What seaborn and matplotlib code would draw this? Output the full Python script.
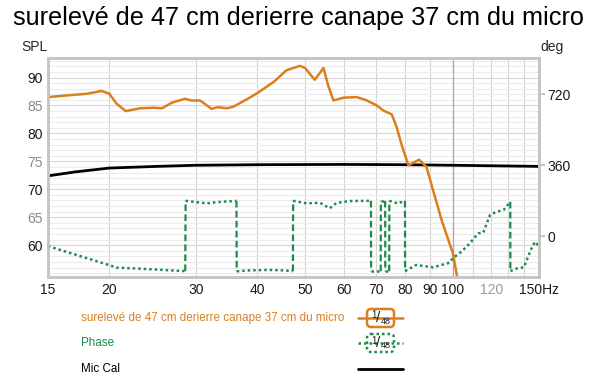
import numpy as np
import pandas as pd
import seaborn as sns
import matplotlib.pyplot as plt
from matplotlib.patches import FancyBboxPatch
from matplotlib.ticker import FixedLocator, NullFormatter

# values
spl_freq = [15, 16.4, 18.0, 19.3, 20.0, 20.7, 21.6, 23.1, 24.6, 25.6, 26.8, 28.5, 29.4,
            30.6, 32.3, 33.3, 34.7, 35.8, 38.1, 40.0, 43.2, 45.9, 48.9, 50.1, 52.4, 54.6,
            55.8, 57.2, 60.0, 63.8, 66.9, 70.1, 72.3, 75.2, 76.9, 78.8, 81.3, 85.5, 88.5,
            91.3, 95.0, 100.2, 102.2, 105.0]
spl_db = [86.5, 86.8, 87.1, 87.6, 87.1, 85.3, 84.0, 84.5, 84.6, 84.5, 85.5, 86.2, 85.9,
          85.9, 84.4, 84.7, 84.5, 84.8, 86.1, 87.2, 89.2, 91.3, 92.1, 91.7, 89.6, 91.7,
          88.6, 85.9, 86.4, 86.5, 85.9, 85.0, 84.1, 83.4, 81.2, 77.9, 74.3, 75.3, 74.0,
          69.8, 64.5, 58.5, 54.3, 51.0]

phase_freq = [15, 20, 20.7, 24, 28, 28.55,
              28.6, 31.6, 33, 36.3,
              36.35, 38, 42, 45, 47.3,
              47.35, 50.5, 53.7, 56.2, 58.1, 61.8, 68.2,
              68.25, 71.4,
              71.45, 72.9,
              72.95, 74.3,
              74.35, 76, 77.5, 79, 80.0,
              80.05, 84.3, 91.3, 98.5, 100.1, 104.2, 108.4, 112.8, 115.5, 119.2, 123, 127, 131.1,
              131.15, 135.3, 139.7, 144.3, 147.1, 150]
phase_deg = [-51, -148, -160, -168, -177, -178,
             179, 166, 172, 179,
             -179, -175, -172, -174, -178,
             179, 166, 169, 141, 169, 178, 179,
             -179, -179,
             179, 179,
             -179, -179,
             179, 172, 165, 175, 179,
             -178, -147, -159, -136, -113, -80, -37, 14, 17, 107, 124, 132, 174,
             -178, -164, -159, -71, -29, -51]

cal_freq = [15, 17, 20, 25, 30, 40, 60, 80, 100, 150]
cal_db = [72.4, 73.1, 73.8, 74.1, 74.3, 74.4, 74.45, 74.4, 74.3, 74.1]

x_ticks = [15, 20, 30, 40, 50, 60, 70, 80, 90, 100, 120, 150]
x_labels = ['15', '20', '30', '40', '50', '60', '70', '80', '90', '100', '120', '150Hz']
x_minor = [110, 130, 140]
spl_ticks = [60, 65, 70, 75, 80, 85, 90]
deg_ticks = [0, 360, 720]

title = 'surelevé de 47 cm derierre canape 37 cm du micro'
series_names = [title, 'Phase', 'Mic Cal']

orange = '#db7f1e'
green = '#1f8a4c'

sns.set_theme(style="white")
plt.rcParams['font.family'] = ['Liberation Sans', 'DejaVu Sans']

fig = plt.figure(figsize=(6, 3.84), dpi=100)
ax = fig.add_axes([48 / 600, 1 - 277 / 384, 491 / 600, 219 / 384])
ax.set_xscale('log')
ax.set_xlim(15, 150)
ax.set_ylim(54.3, 93.5)

# grid: 1 dB minor lines, labelled frequencies as verticals
ax.yaxis.set_major_locator(FixedLocator(spl_ticks))
ax.yaxis.set_minor_locator(FixedLocator(np.arange(55, 94)))
ax.xaxis.set_major_locator(FixedLocator(x_ticks))
ax.xaxis.set_major_formatter(plt.FixedFormatter(x_labels))
ax.xaxis.set_minor_locator(FixedLocator(x_minor))
ax.xaxis.set_minor_formatter(NullFormatter())
ax.grid(True, which='minor', axis='y', color='#ececec', lw=0.8)
ax.grid(True, which='major', axis='y', color='#d6d6d6', lw=0.8)
ax.grid(True, which='both', axis='x', color='#d3d3d3', lw=0.8)
ax.axvline(100, color='#a8a8a8', lw=0.9, zorder=1)
ax.tick_params(which='both', length=0, labelsize=10, pad=4, colors='#1a1a1a')

spl_df = pd.DataFrame({'freq': spl_freq, 'db': spl_db})
cal_df = pd.DataFrame({'freq': cal_freq, 'db': cal_db})
sns.lineplot(data=cal_df, x='freq', y='db', ax=ax, color='black', lw=2, estimator=None, sort=False)
sns.lineplot(data=spl_df, x='freq', y='db', ax=ax, color=orange, lw=1.8, estimator=None, sort=False)
ax.set_xlabel('')
ax.set_ylabel('')

for lab in ax.get_yticklabels():
    if lab.get_text() in ('65', '75', '85'):
        lab.set_color('#8a8a8a')
for lab in ax.get_xticklabels():
    if lab.get_text() == '120':
        lab.set_color('#9a9a9a')

ax2 = ax.twinx()
ax2.set_ylim(-208, 904.5)
ax2.yaxis.set_major_locator(FixedLocator(deg_ticks))
ax2.tick_params(length=4, color='#bdbdbd', labelsize=10, pad=2, labelcolor='#1a1a1a')

# phase: dotted trace, dashed verticals where it wraps at +/-180
ph = pd.DataFrame({'freq': phase_freq, 'deg': phase_deg})
jump = np.abs(np.diff(ph['deg'].values)) > 180
ph['seg'] = np.concatenate([[0], np.cumsum(jump)])
for s, part in ph.groupby('seg'):
    sns.lineplot(data=part, x='freq', y='deg', ax=ax2, color=green, lw=1.8,
                 linestyle=(0, (1, 1.2)), estimator=None, sort=False)
for i in np.where(jump)[0]:
    ax2.plot(ph['freq'].values[i:i + 2], ph['deg'].values[i:i + 2], color=green,
             lw=1.6, linestyle=(0, (3, 1.5)))
ax2.set_ylabel('')

for a in (ax, ax2):
    for sp in a.spines.values():
        sp.set_color('#c4c4c4')
        sp.set_linewidth(1.8)

fig.text(0.497, 1 - 18 / 384, title, ha='center', va='center', fontsize=18.2, color='black')
fig.text(34 / 600, 1 - 47 / 384, 'SPL', ha='center', va='center', fontsize=10)
fig.text(552 / 600, 1 - 47 / 384, 'deg', ha='center', va='center', fontsize=10)

# legend block under the plot, drawn in pixel coordinates
lax = fig.add_axes([0, 0, 1, 1], zorder=-1)
lax.set_xlim(0, 600)
lax.set_ylim(384, 0)
lax.axis('off')
rows_y = [318, 343, 369]
name_colors = [orange, green, 'black']
for name, c, y in zip(series_names, name_colors, rows_y):
    lax.text(81, y, name, color=c, fontsize=8.4, va='center', ha='left')
lax.plot([358, 403], [rows_y[0]] * 2, color=orange, lw=1.8)
lax.plot([358, 403], [rows_y[1]] * 2, color=green, lw=1.8, linestyle=(0, (1, 1.2)))
lax.plot([358, 403], [rows_y[2]] * 2, color='black', lw=2)
for y, c, ls in [(rows_y[0], orange, '-'), (rows_y[1], green, (0, (1, 1.2)))]:
    box = FancyBboxPatch((367, y - 9), 27, 18, boxstyle='round,pad=0,rounding_size=4',
                         facecolor='white', edgecolor=c, lw=1.8, linestyle=ls)
    lax.add_patch(box)
    lax.text(374, y - 2.5, '1', ha='center', va='center', fontsize=7, color='#222222')
    lax.text(378.5, y, '/', ha='center', va='center', fontsize=11, color='#222222')
    lax.text(386, y + 3, '48', ha='center', va='center', fontsize=6.5, color='#222222')

plt.savefig('out.png', dpi=100)
